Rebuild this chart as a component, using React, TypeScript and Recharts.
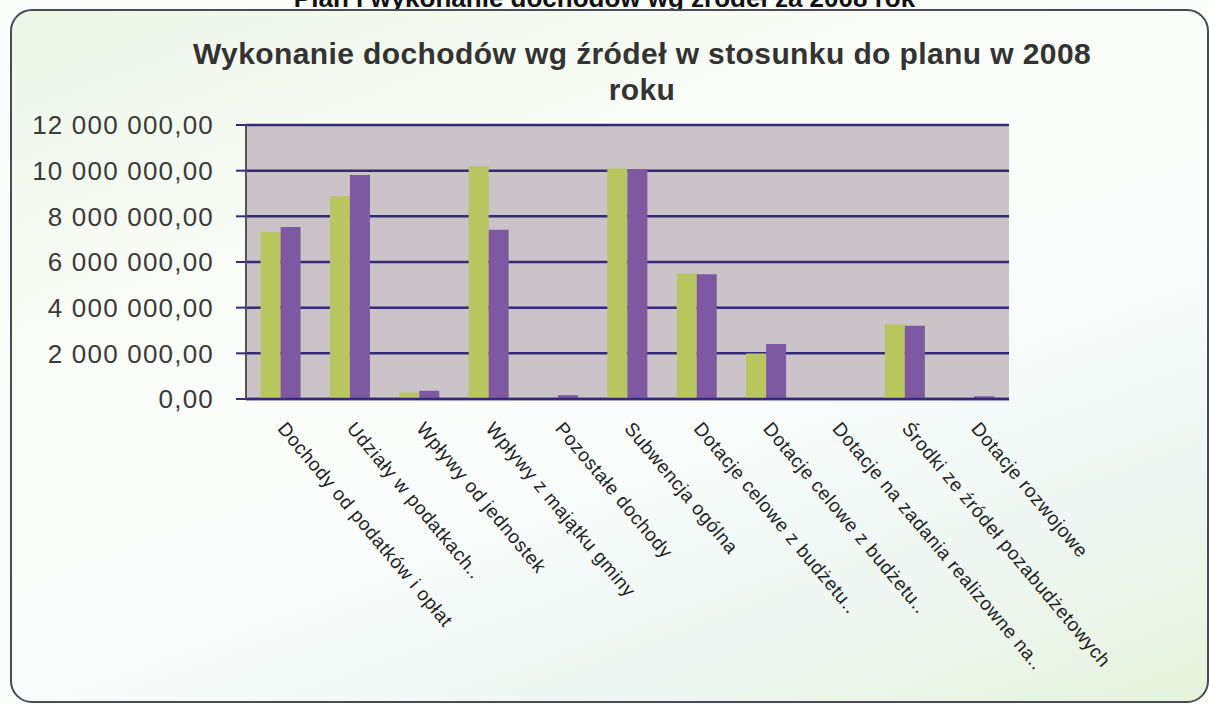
import { BarChart, Bar, XAxis, YAxis, CartesianGrid } from "recharts";

const categories = [
  "Dochody od podatków i opłat",
  "Udziały w podatkach..",
  "Wpływy od jednostek",
  "Wpływy z majątku gminy",
  "Pozostałe dochody",
  "Subwencja ogólna",
  "Dotacje celowe z budżetu..",
  "Dotacje celowe z budżetu..",
  "Dotacje na zadania realizowne na..",
  "Środki ze źródeł pozabudżetowych",
  "Dotacje rozwojowe",
];

const plan = [7310000, 8880000, 280000, 10180000, 20000, 10100000, 5500000, 1990000, 0, 3270000, 20000];
const wykonanie = [7530000, 9810000, 360000, 7410000, 170000, 10060000, 5460000, 2410000, 0, 3210000, 120000];

const yTicks = [0, 2000000, 4000000, 6000000, 8000000, 10000000, 12000000];

const data = categories.map((name, i) => ({
  name,
  plan: plan[i],
  wykonanie: wykonanie[i],
}));

const boundaryTicks = categories.map((_, i) => i).concat(categories.length);

const FONT = "'Liberation Sans', Arial, sans-serif";

function formatPl(v: number) {
  const whole = Math.round(v)
    .toString()
    .replace(/\B(?=(\d{3})+(?!\d))/g, " ");
  return `${whole},00`;
}

function CategoryTick(props: any) {
  const { x, y, payload } = props;
  const tx = x - 4;
  const ty = y + 22;
  return (
    <text
      x={tx}
      y={ty}
      transform={`rotate(50, ${tx}, ${ty})`}
      textAnchor="start"
      fontSize={19}
      letterSpacing={0.6}
      fontFamily={FONT}
      fill="#222"
    >
      {payload.value}
    </text>
  );
}

export default function App() {
  return (
    <div
      style={{
        position: "absolute",
        left: 0,
        top: 0,
        width: 1209,
        height: 705,
        overflow: "hidden",
        background: "#fbfdfb",
        fontFamily: FONT,
      }}
    >
      <div
        style={{
          position: "absolute",
          left: 0,
          width: 1209,
          top: -15,
          textAlign: "center",
          fontSize: 26,
          fontWeight: "bold",
          color: "#111",
          lineHeight: "26px",
        }}
      >
        Plan i wykonanie dochodów wg źródeł za 2008 rok
      </div>
      <div
        style={{
          position: "absolute",
          left: 10,
          top: 9,
          width: 1195,
          height: 690,
          border: "2px solid #4a4a55",
          borderRadius: 22,
          background:
            "linear-gradient(160deg, #eef6e8 0%, #f9fcf7 30%, #fbfdfc 55%, #eef7f3 80%, #e6f3dc 100%)",
        }}
      />
      <div
        style={{
          position: "absolute",
          left: 0,
          width: 1284,
          top: 36,
          textAlign: "center",
          fontSize: 30,
          letterSpacing: 0.4,
          fontWeight: "bold",
          color: "#333",
          lineHeight: "36px",
        }}
      >
        Wykonanie dochodów wg źródeł w stosunku do planu w 2008
        <br />
        roku
      </div>
      <div style={{ position: "absolute", left: 0, top: 0 }}>
        <BarChart
          width={1209}
          height={705}
          data={data}
          margin={{ top: 125, right: 200, bottom: 6, left: 0 }}
          barCategoryGap="21%"
          barGap={0}
        >
          <CartesianGrid
            vertical={false}
            stroke="#35297a"
            strokeWidth={2.5}
            fill="#cac3c7"
            fillOpacity={1}
          />
          <XAxis
            dataKey="name"
            height={300}
            interval={0}
            tickLine={false}
            axisLine={{ stroke: "#35297a", strokeWidth: 2.5 }}
            tick={<CategoryTick />}
          />
          <XAxis
            xAxisId="b"
            type="number"
            domain={[0, categories.length]}
            allowDataOverflow
            ticks={boundaryTicks}
            tick={false}
            tickLine={{ stroke: "#444" }}
            tickSize={6}
            axisLine={false}
            height={0}
          />
          <YAxis
            domain={[0, 12000000]}
            ticks={yTicks}
            width={246}
            tickSize={10}
            tickMargin={22}
            tickFormatter={formatPl}
            tick={{ fontSize: 26, fill: "#3a3a3a", fontFamily: FONT, letterSpacing: 1.2 }}
            tickLine={{ stroke: "#35297a", strokeWidth: 2 }}
            axisLine={{ stroke: "#555", strokeWidth: 2 }}
          />
          <YAxis
            yAxisId="r"
            orientation="right"
            width={0}
            tick={false}
            tickLine={false}
            axisLine={{ stroke: "#8a8a8a", strokeWidth: 1.5 }}
          />
          <Bar dataKey="plan" name="Plan" fill="#b7c65e" isAnimationActive={false} />
          <Bar dataKey="wykonanie" name="Wykonanie" fill="#7d59a2" isAnimationActive={false} />
        </BarChart>
      </div>
    </div>
  );
}
